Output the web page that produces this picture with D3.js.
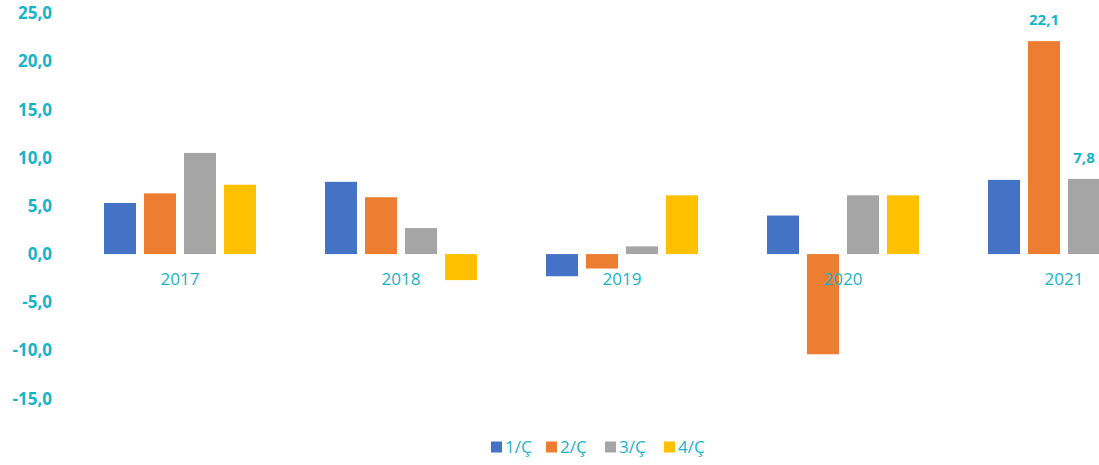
<!DOCTYPE html>
<html>
<head>
<meta charset="utf-8">
<script src="https://cdn.jsdelivr.net/npm/d3@7"></script>
<style>
  body { margin: 0; background: #fff; }
  svg text { font-family: "Open Sans", "DejaVu Sans", sans-serif; }
</style>
</head>
<body>
<div id="chart"></div>
<script>
var years = ["2017", "2018", "2019", "2020", "2021"];
var quarters = ["1/Ç", "2/Ç", "3/Ç", "4/Ç"];
var q1 = [5.3, 7.5, -2.3, 4.0, 7.7];
var q2 = [6.3, 5.9, -1.5, -10.4, 22.1];
var q3 = [10.5, 2.7, 0.8, 6.1, 7.8];
var q4 = [7.2, -2.7, 6.1, 6.1, null];
var yTicks = [25, 20, 15, 10, 5, 0, -5, -10, -15];
var shownLabels = [[1, 4], [2, 4]]; // [serie, annee] avec etiquette
var colors = ["#4472C4", "#ED7D31", "#A5A5A5", "#FFC000"];
var teal = "#17B3C9";

var width = 1099, height = 465;
var series = [q1, q2, q3, q4];

var svg = d3.select("#chart").append("svg")
    .attr("width", width).attr("height", height);

var y = d3.scaleLinear().domain([-15, 25]).range([398.6, 13.2]);
// la derniere categorie deborde a droite, comme dans l'original
var x0 = d3.scaleBand().domain(years).range([69.5, 1174.5]);
var x1 = d3.scaleBand().domain(quarters).range([-80, 80])
    .paddingInner(0.2).paddingOuter(0.1);

// axe y (texte seulement)
svg.append("g").selectAll("text").data(yTicks).enter().append("text")
    .attr("x", 52).attr("y", d => y(d))
    .attr("dy", "0.35em")
    .attr("text-anchor", "end")
    .style("font-size", "17px").style("font-weight", "700")
    .style("fill", teal)
    .text(d => d3.format(".1f")(d).replace(".", ",").replace("−", "-"));

// barres
var bars = [];
series.forEach(function (s, i) {
    s.forEach(function (v, j) {
        if (v !== null) bars.push({ q: quarters[i], yr: years[j], v: v, c: colors[i] });
    });
});
svg.append("g").selectAll("rect").data(bars).enter().append("rect")
    .attr("x", d => x0(d.yr) + x0.bandwidth() / 2 + x1(d.q))
    .attr("width", x1.bandwidth())
    .attr("y", d => y(Math.max(0, d.v)))
    .attr("height", d => Math.abs(y(d.v) - y(0)))
    .style("fill", d => d.c);

// etiquettes des annees
svg.append("g").selectAll("text").data(years).enter().append("text")
    .attr("x", d => x0(d) + x0.bandwidth() / 2)
    .attr("y", y(0) + 25)
    .attr("dy", "0.35em")
    .attr("text-anchor", "middle")
    .style("font-size", "17px")
    .style("fill", teal)
    .text(d => d);

// etiquettes de valeurs
svg.append("g").selectAll("text").data(shownLabels).enter().append("text")
    .attr("x", d => x0(years[d[1]]) + x0.bandwidth() / 2 + x1(quarters[d[0]]) + x1.bandwidth() / 2)
    .attr("y", d => y(series[d[0]][d[1]]) - 21)
    .attr("dy", "0.35em")
    .attr("text-anchor", "middle")
    .style("font-size", "15px").style("font-weight", "700")
    .style("fill", teal)
    .text(d => d3.format(".1f")(series[d[0]][d[1]]).replace(".", ","));

// legende
var legX = [491, 546, 605, 664];
var leg = svg.append("g").selectAll("g").data(quarters).enter().append("g")
    .attr("transform", (d, i) => "translate(" + legX[i] + ",447)");
leg.append("rect").attr("x", 0).attr("y", -5.5).attr("width", 11).attr("height", 11)
    .style("fill", (d, i) => colors[i]);
leg.append("text").attr("x", 14).attr("dy", "0.35em")
    .style("font-size", "17px").style("fill", teal)
    .text(d => d);
</script>
</body>
</html>
